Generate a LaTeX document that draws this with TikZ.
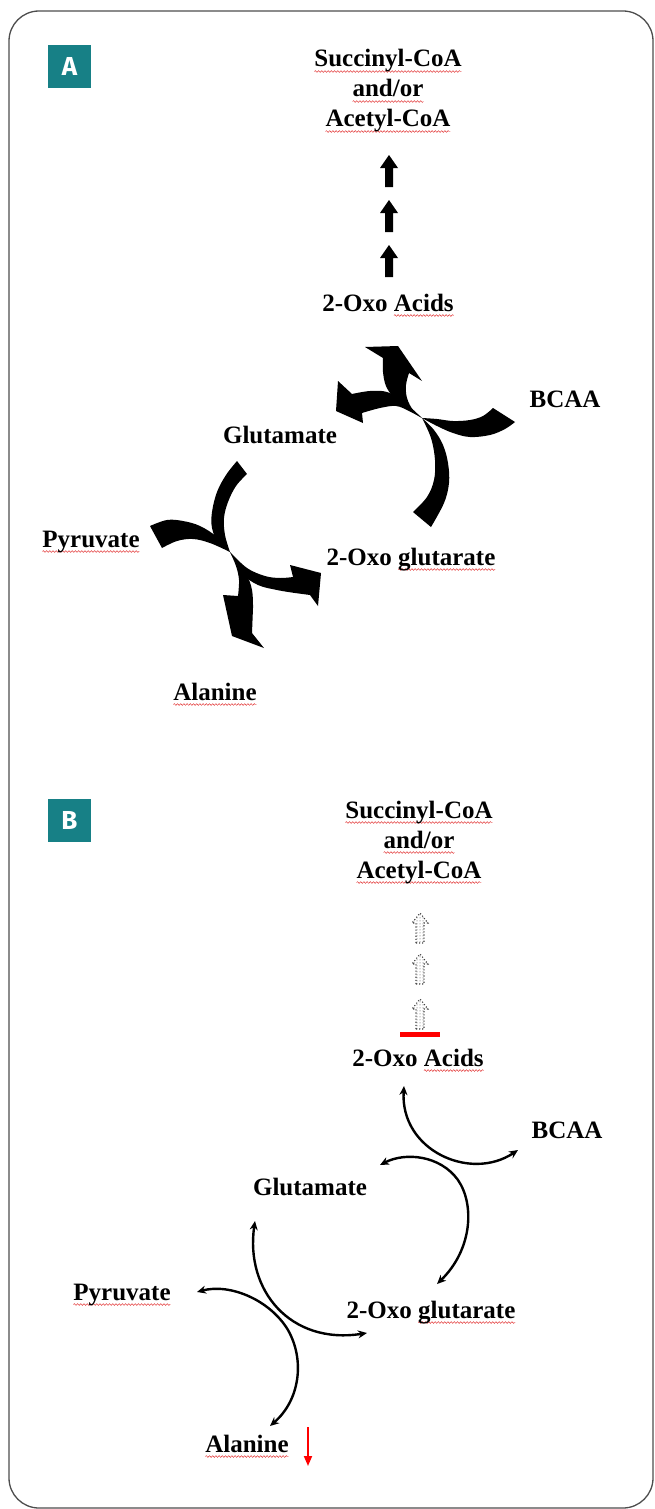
\documentclass[tikz,border=0pt]{standalone}
\usepackage{fontspec}
\setmainfont{Liberation Serif}
\newfontfamily\tagfont{Fira Sans}
\usetikzlibrary{arrows.meta,patterns,decorations.pathmorphing}

\definecolor{tagteal}{HTML}{178086}
\definecolor{framegray}{HTML}{4D4D4D}
\definecolor{spellred}{HTML}{E02828}

% red wavy underline (spell-checker mark)
\newlength\swlen
\newcommand\spellwave[1]{\settowidth\swlen{#1}\rlap{\tikz[overlay,baseline=0pt]\draw[spellred,line width=0.45pt,decorate,decoration={snake,amplitude=0.9pt,segment length=3.2pt}] (0pt,-4.5pt) -- (\swlen,-4.5pt);}#1}

\tikzset{
  lbl/.style={inner sep=0pt, anchor=base, font=\fontsize{25}{30}\selectfont\bfseries},
  tagbox/.style={fill=tagteal, text=white, minimum size=43pt, inner sep=0pt,
    font=\tagfont\fontsize{26}{26}\selectfont\bfseries},
  blk/.style={fill=black},
  conn/.style={line width=2.4pt, {Stealth[length=9pt,width=8pt]}-{Stealth[length=9pt,width=8pt]}},
  solidup/.pic={\fill[black] (-4,0) -- (-4,-19) -- (-9,-19) -- (0,-32) -- (9,-19) -- (4,-19) -- (4,0) -- cycle;},
  ghostup/.pic={\draw[black!75, dotted, line width=1.1pt, pattern=dots, pattern color=black!70]
    (-4,0) -- (-4,-20) -- (-8,-20) -- (0,-30) -- (8,-20) -- (4,-20) -- (4,0) -- cycle;},
}

\begin{document}
\begin{tikzpicture}[x=1pt, y=-1pt]
\useasboundingbox (0,0) rectangle (654,1509);

% outer frame
\draw[framegray, line width=1.3pt, rounded corners=30pt] (9,11) rectangle (653,1508);

% panel tags
\node[tagbox] (tagA) at (69.5,66.5) {A};
\node[tagbox] (tagB) at (69.5,820.5) {B};

% ================= Panel A =================
\node[lbl] (aSucc) at (388,67) {\spellwave{Succinyl-CoA}};
\node[lbl] (aAnd)  at (388,97) {\spellwave{and/or}};
\node[lbl] (aAcet) at (388,127) {\spellwave{Acetyl-CoA}};

\pic (aUp1) at (389,187) {solidup};
\pic (aUp2) at (389,232) {solidup};
\pic (aUp3) at (389,277) {solidup};

\node[lbl] (aAcids) at (388,311) {2-Oxo \spellwave{Acids}};
\node[lbl] (aBCAA)  at (565,407) {BCAA};
\node[lbl] (aGlu)   at (280,443) {Glutamate};
\node[lbl] (aPyr)   at (91,547)  {\spellwave{Pyruvate}};
\node[lbl] (aOG)    at (411,565) {2-Oxo \spellwave{glutarate}};
\node[lbl] (aAla)   at (215,700) {\spellwave{Alanine}};

% upper crossing: BCAA tail
\fill[blk] plot[smooth,tension=0.6] coordinates {(493,408) (483,416) (470,420) (453,421) (437,419) (422,418)}
  -- plot[smooth,tension=0.6] coordinates {(422,418) (437,426) (453,433) (470,437) (490,435) (505,429) (515,422)} -- cycle;
% upper crossing: head towards the 2-oxo acids
\fill[blk] plot[smooth,tension=0.6] coordinates {(422,418) (406,408) (394,398) (386,386) (383,372) (383,358)}
  -- (365,347) -- (398,346) -- (422,381)
  -- plot[smooth,tension=0.6] coordinates {(409,373) (406,385) (407,398) (413,410) (422,418)} -- cycle;
% upper crossing: 2-oxoglutarate tail
\fill[blk] plot[smooth,tension=0.6] coordinates {(422,418) (434,430) (443,445) (448,463) (449,483) (444,503) (431,527)}
  -- (413,512)
  -- plot[smooth,tension=0.6] coordinates {(413,512) (427,497) (434,480) (435,460) (431,438) (422,418)} -- cycle;
% upper crossing: head towards glutamate
\fill[blk] plot[smooth,tension=0.6] coordinates {(422,418) (403,401) (387,392) (370,391) (352,394)}
  -- (338,381) -- (336,411) -- (363,423)
  -- plot[smooth,tension=0.6] coordinates {(362,413) (380,408) (396,406) (409,411) (422,418)} -- cycle;

% lower crossing: glutamate tail
\fill[blk] plot[smooth,tension=0.6] coordinates {(237,461) (226,475) (217,492) (212,512) (212,528) (218,542) (230,552)}
  -- plot[smooth,tension=0.6] coordinates {(230,552) (225,535) (224,518) (228,502) (236,486) (247,474)} -- cycle;
% lower crossing: pyruvate tail
\fill[blk] plot[smooth,tension=0.6] coordinates {(150,526) (167,520) (183,521) (200,526) (217,537) (230,552)}
  -- plot[smooth,tension=0.6] coordinates {(230,552) (210,543) (193,539) (177,541) (162,548)} -- cycle;
% lower crossing: head towards 2-oxoglutarate
\fill[blk] plot[smooth,tension=0.6] coordinates {(230,552) (247,568) (265,576) (280,578) (293,577)}
  -- (290,565) -- (321,573) -- (318,606) -- (310,595)
  -- plot[smooth,tension=0.6] coordinates {(295,593) (277,590) (258,585) (243,574) (230,552)} -- cycle;
% lower crossing: head towards alanine
\fill[blk] plot[smooth,tension=0.6] coordinates {(230,552) (236,566) (239,580) (238,596)}
  -- (223,595) -- (232,636) -- (264,648) -- (252,633)
  -- plot[smooth,tension=0.6] coordinates {(253,608) (252,590) (246,574) (230,552)} -- cycle;

% ================= Panel B =================
\node[lbl] (bSucc) at (419,818) {\spellwave{Succinyl-CoA}};
\node[lbl] (bAnd)  at (419,848) {\spellwave{and/or}};
\node[lbl] (bAcet) at (419,878) {\spellwave{Acetyl-CoA}};

\pic (bUp1) at (420,943) {ghostup};
\pic (bUp2) at (420,984) {ghostup};
\pic (bUp3) at (420,1029) {ghostup};

\coordinate (barL) at (400,1034);
\coordinate (barR) at (440,1034);
\draw[red, line width=5pt] (barL) -- (barR);

\node[lbl] (bAcids) at (418,1066) {2-Oxo \spellwave{Acids}};
\node[lbl] (bBCAA)  at (567,1138) {BCAA};
\node[lbl] (bGlu)   at (310,1195) {Glutamate};
\node[lbl] (bPyr)   at (122,1300) {\spellwave{Pyruvate}};
\node[lbl] (bOG)    at (431,1318) {2-Oxo \spellwave{glutarate}};
\node[lbl] (bAla)   at (247,1452) {\spellwave{Alanine}};

% arrow ends of the two crossings
\coordinate (bAcidsEnd) at (404,1086);
\coordinate (bBCAAEnd)  at (518,1150);
\coordinate (bGluEndU)  at (380,1165);
\coordinate (bOGEndU)   at (437,1284);
\coordinate (bGluEndL)  at (255,1221);
\coordinate (bOGEndL)   at (367,1333);
\coordinate (bPyrEnd)   at (197,1292);
\coordinate (bAlaEnd)   at (270,1426);

\draw[conn] (bAcidsEnd) .. controls (400,1150) and (470,1182) .. (bBCAAEnd);
\draw[conn] (bGluEndU) .. controls (405,1152) and (440,1155) .. (458,1180)
                       .. controls (475,1205) and (472,1250) .. (bOGEndU);
\draw[conn] (bGluEndL) .. controls (245,1290) and (290,1345) .. (bOGEndL);
\draw[conn] (bPyrEnd) .. controls (230,1283) and (270,1300) .. (288,1330)
                      .. controls (305,1360) and (300,1400) .. (bAlaEnd);

% decrease marker next to alanine
\coordinate (downTop) at (308,1427);
\coordinate (downBot) at (308,1466);
\draw[red, line width=1.8pt, -{Triangle[length=10pt,width=8pt]}] (downTop) -- (downBot);

\end{tikzpicture}
\end{document}
